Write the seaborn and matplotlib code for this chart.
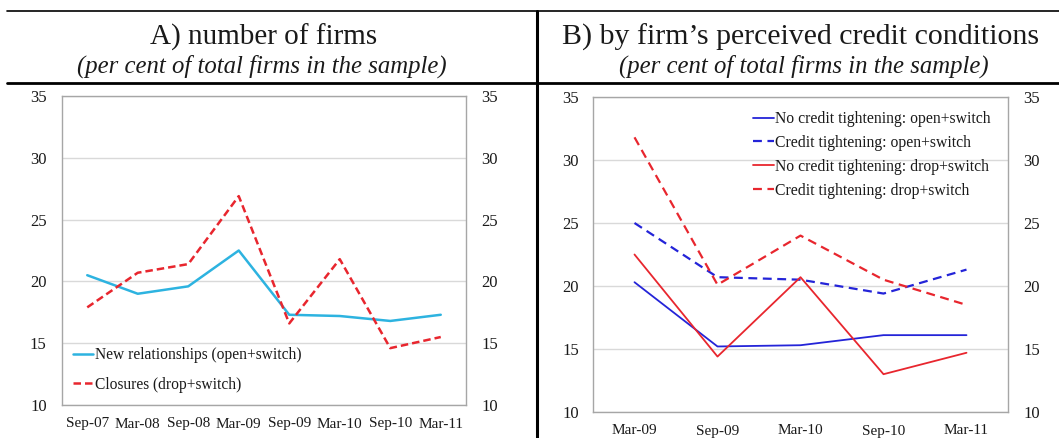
import numpy as np
import pandas as pd
import matplotlib
matplotlib.use("Agg")
import matplotlib.pyplot as plt
from matplotlib.lines import Line2D
import seaborn as sns

# ---- data ----
periods_a = ["Sep-07", "Mar-08", "Sep-08", "Mar-09", "Sep-09", "Mar-10", "Sep-10", "Mar-11"]
new_relationships = [20.5, 19.0, 19.6, 22.5, 17.3, 17.2, 16.8, 17.3]
closures = [17.9, 20.7, 21.4, 26.9, 16.6, 21.8, 14.6, 15.5]

periods_b = ["Mar-09", "Sep-09", "Mar-10", "Sep-10", "Mar-11"]
no_tight_open = [20.3, 15.2, 15.3, 16.1, 16.1]
tight_open = [25.0, 20.7, 20.5, 19.4, 21.3]
no_tight_drop = [22.5, 14.4, 20.7, 13.0, 14.7]
tight_drop = [31.8, 20.1, 24.0, 20.5, 18.5]

y_ticks = [10, 15, 20, 25, 30, 35]

sns.set_theme(style="white")
plt.rcParams["font.family"] = ["Liberation Serif", "DejaVu Serif"]

CYAN = "#2DB3E0"
RED = "#E8262E"
BLUE = "#2424D8"
GRID = "#D9D9D9"
SPINE = "#A6A6A6"
TXT = "#1A1A1A"

W, H = 1059, 438
fig = plt.figure(figsize=(W / 100, H / 100), dpi=100)


def px_axes(left, top, right, bottom):
    return fig.add_axes([left / W, 1 - bottom / H, (right - left) / W, (bottom - top) / H])


def style_axes(ax, labels, lpad, rpad):
    n = len(labels)
    ax.set_xlim(-0.5, n - 0.5)
    ax.set_ylim(10, 35)
    ax.set_yticks(y_ticks)
    ax.set_xticks(range(n))
    ax.set_xticklabels(labels, fontsize=11)
    ax.set_xticks(np.arange(0.5, n - 0.5, 1.0), minor=True)
    ax.tick_params(axis="x", which="major", length=0, pad=9, labelcolor=TXT)
    ax.tick_params(axis="x", which="minor", direction="in", length=4, color=SPINE, width=1)
    ax.tick_params(axis="y", length=0, pad=lpad, labelsize=12, labelcolor=TXT)
    ax.grid(axis="y", color=GRID, lw=1)
    ax.set_axisbelow(True)
    for s in ax.spines.values():
        s.set_color(SPINE)
        s.set_linewidth(1)
    ax.set_xlabel("")
    ax.set_ylabel("")
    twin = ax.twinx()
    twin.set_ylim(10, 35)
    twin.set_yticks(y_ticks)
    twin.tick_params(axis="y", length=0, pad=rpad, labelsize=12, labelcolor=TXT)
    for s in twin.spines.values():
        s.set_visible(False)
    twin.grid(False)


# ---- panel A ----
ax_a = px_axes(62, 96, 466, 405)
df_a = pd.DataFrame({"x": range(len(periods_a)), "new": new_relationships, "clo": closures})
sns.lineplot(data=df_a, x="x", y="new", ax=ax_a, color=CYAN, lw=1.8,
             label="New relationships (open+switch)")
sns.lineplot(data=df_a, x="x", y="clo", ax=ax_a, color=RED, lw=1.8,
             linestyle=(0, (3, 1.6)), label="Closures (drop+switch)")
ax_a.legend(loc="lower left", bbox_to_anchor=(0.0, 0.005), frameon=False, fontsize=11.2,
            handlelength=1.3, handletextpad=0.1, labelspacing=0.85, borderaxespad=0.3,
            labelcolor=TXT)
style_axes(ax_a, periods_a, 11, 11)

# ---- panel B ----
ax_b = px_axes(593, 97, 1008, 412)
df_b = pd.DataFrame({"x": range(len(periods_b)), "a": no_tight_open, "b": tight_open,
                     "c": no_tight_drop, "d": tight_drop})
dash = (0, (4, 2.5))
sns.lineplot(data=df_b, x="x", y="a", ax=ax_b, color=BLUE, lw=1.3,
             label="No credit tightening: open+switch")
sns.lineplot(data=df_b, x="x", y="b", ax=ax_b, color=BLUE, lw=1.6, linestyle=dash,
             label="Credit tightening: open+switch")
sns.lineplot(data=df_b, x="x", y="c", ax=ax_b, color=RED, lw=1.3,
             label="No credit tightening: drop+switch")
sns.lineplot(data=df_b, x="x", y="d", ax=ax_b, color=RED, lw=1.6, linestyle=dash,
             label="Credit tightening: drop+switch")
ax_b.legend(loc="upper right", bbox_to_anchor=(0.985, 0.99), frameon=False, fontsize=11.3,
            handlelength=1.3, handletextpad=0.1, labelspacing=0.5, borderaxespad=0.3,
            labelcolor=TXT)
style_axes(ax_b, periods_b, 10, 11)

# ---- header frame ----
fig.add_artist(Line2D([7 / W, 1], [1 - 11 / H] * 2, color="black", lw=1.2))
fig.add_artist(Line2D([7 / W, 1], [1 - 83 / H] * 2, color="black", lw=2.0))
fig.add_artist(Line2D([537 / W] * 2, [1 - 11 / H, 0], color="black", lw=2.2))

fig.text(264 / W, 1 - 37 / H, "A) number of firms", ha="center", va="center",
         fontsize=21, color=TXT)
fig.text(262 / W, 1 - 66 / H, "(per cent of total firms in the sample)", ha="center",
         va="center", fontsize=17.8, style="italic", color=TXT)
fig.text(801 / W, 1 - 37 / H, "B) by firm\u2019s perceived credit conditions", ha="center",
         va="center", fontsize=21.5, color=TXT)
fig.text(804 / W, 1 - 66 / H, "(per cent of total firms in the sample)", ha="center",
         va="center", fontsize=17.8, style="italic", color=TXT)

fig.savefig("out.png", dpi=100)
